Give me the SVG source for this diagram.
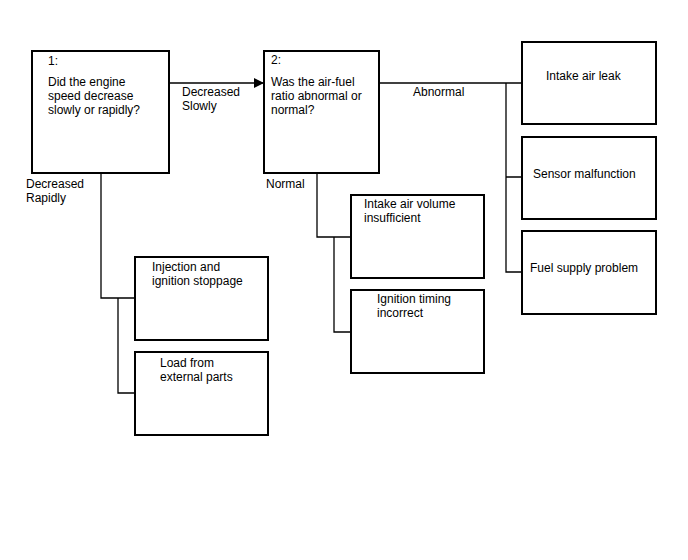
<svg xmlns="http://www.w3.org/2000/svg" width="688" height="560" viewBox="0 0 688 560">
<style>
.box{fill:#fff;stroke:#000;stroke-width:2}
.ln{fill:none;stroke:#000;stroke-width:1.3}
text{font-family:"Liberation Sans",Arial,sans-serif;font-size:12px;fill:#000}
</style>
<defs>
<marker id="ah" markerWidth="10" markerHeight="10" refX="9" refY="5" orient="auto" markerUnits="userSpaceOnUse">
<path d="M0,0 L10,5 L0,10 Z" fill="#000"/>
</marker>
</defs>
<rect width="688" height="560" fill="#fff"/>
<g id="connectors">
<path class="ln" d="M169,83 H263" marker-end="url(#ah)"/>
<path class="ln" d="M379,83 H522"/>
<path class="ln" d="M506,83 V272 H522 M506,177 H522"/>
<path class="ln" d="M101,173 V298 H135 M118,298 V393 H135"/>
<path class="ln" d="M317,173 V237 H351 M334,237 V332 H351"/>
</g>
<g id="labels">
<text x="182" y="96">Decreased</text>
<text x="182" y="110">Slowly</text>
<text x="26" y="188">Decreased</text>
<text x="26" y="202">Rapidly</text>
<text x="413" y="96">Abnormal</text>
<text x="266" y="188">Normal</text>
</g>
<g id="n1">
<rect class="box" x="32" y="51" width="137" height="122"/>
<text x="48" y="65">1:</text>
<text x="48" y="86">Did the engine</text>
<text x="48" y="100">speed decrease</text>
<text x="48" y="114">slowly or rapidly?</text>
</g>
<g id="n2">
<rect class="box" x="264" y="51" width="115" height="122"/>
<text x="271" y="64">2:</text>
<text x="271" y="86">Was the air-fuel</text>
<text x="271" y="100">ratio abnormal or</text>
<text x="271" y="114">normal?</text>
</g>
<g id="n3">
<rect class="box" x="522" y="42" width="134" height="82"/>
<text x="546" y="80">Intake air leak</text>
</g>
<g id="n4">
<rect class="box" x="522" y="137" width="134" height="82"/>
<text x="533" y="178">Sensor malfunction</text>
</g>
<g id="n5">
<rect class="box" x="522" y="231" width="134" height="83"/>
<text x="530" y="272">Fuel supply problem</text>
</g>
<g id="n6">
<rect class="box" x="135" y="257" width="133" height="83"/>
<text x="152" y="271">Injection and</text>
<text x="152" y="285">ignition stoppage</text>
</g>
<g id="n7">
<rect class="box" x="135" y="352" width="133" height="83"/>
<text x="160" y="367">Load from</text>
<text x="160" y="381">external parts</text>
</g>
<g id="n8">
<rect class="box" x="351" y="195" width="133" height="83"/>
<text x="364" y="208">Intake air volume</text>
<text x="364" y="222">insufficient</text>
</g>
<g id="n9">
<rect class="box" x="351" y="290" width="133" height="83"/>
<text x="377" y="303">Ignition timing</text>
<text x="377" y="317">incorrect</text>
</g>
</svg>
